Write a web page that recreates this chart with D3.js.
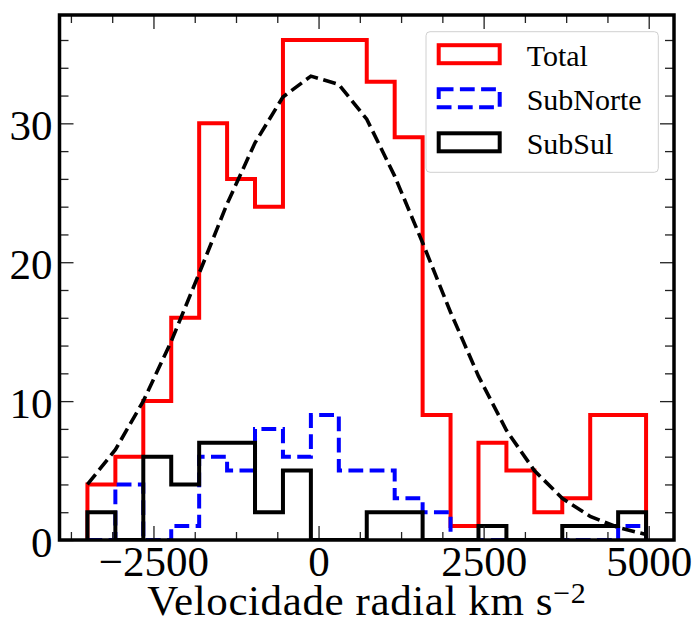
<!DOCTYPE html>
<html>
<head>
<meta charset="utf-8">
<script src="https://cdn.jsdelivr.net/npm/d3@7"></script>
<style>
  html, body { margin: 0; padding: 0; background: #fff; }
  svg { display: block; }
</style>
</head>
<body>
<svg id="chart" width="692" height="624"></svg>
<script>
// ---- data ----
const binEdges = [-3500, -3077, -2654, -2231, -1808, -1385, -962, -539, -116, 307, 730,
                  1153, 1576, 1999, 2422, 2845, 3268, 3691, 4114, 4537, 4960];
const totalCounts    = [4, 6, 10, 16, 30, 26, 24, 36, 36, 36, 33, 29, 9, 1, 7, 5, 2, 3, 9, 9];
const subNorteCounts = [0, 4, 0, 1, 6, 5, 8, 6, 9, 5, 5, 3, 2, 0, 0, 0, 0, 0, 0, 1];
const subSulCounts   = [2, 0, 6, 4, 7, 7, 2, 5, 0, 0, 2, 2, 0, 0, 1, 0, 0, 1, 1, 2];
// dashed fitted curve, read at the bin edges
const fitCurve = [4.0, 6.5, 10.0, 14.3, 19.2, 24.2, 28.6, 31.9, 33.4, 32.8, 30.3,
                  26.2, 21.4, 16.4, 11.8, 7.9, 5.0, 3.0, 1.7, 0.9, 0.4];
const seriesNames = ["Total", "SubNorte", "SubSul"];
const xTickValues = [-2500, 0, 2500, 5000];
const xTickLabels = ["\u22122500", "0", "2500", "5000"];
const yTickValues = [0, 10, 20, 30];
const yTickLabels = ["0", "10", "20", "30"];
const xLabel = "Velocidade radial km s";
const xLabelSup = "\u22122";

// ---- layout ----
const svg = d3.select("#chart");
const L = 59.5, R = 674, T = 15, B = 540;
const FONT = "'Liberation Serif', 'DejaVu Serif', serif";

const xMin = binEdges[0], xMax = binEdges[binEdges.length - 1];
const xPad = (xMax - xMin) * 0.05;
const x = d3.scaleLinear().domain([xMin - xPad, xMax + xPad]).range([L, R]);
const yMax = d3.max(totalCounts) * 1.05;
const y = d3.scaleLinear().domain([0, yMax]).range([B, T]);

function stepPoints(vals) {
  const pts = [[binEdges[0], 0]];
  vals.forEach((v, i) => { pts.push([binEdges[i], v]); pts.push([binEdges[i + 1], v]); });
  pts.push([binEdges[binEdges.length - 1], 0]);
  return pts;
}
const line = d3.line().x(d => x(d[0])).y(d => y(d[1]));

svg.append("defs").append("clipPath").attr("id", "plotclip")
  .append("rect").attr("x", L).attr("y", T).attr("width", R - L).attr("height", B - T);

const plot = svg.append("g").attr("clip-path", "url(#plotclip)");

const styles = [
  { data: totalCounts, color: "#ff0000", dash: null },
  { data: subNorteCounts, color: "#0000ff", dash: "14.8,6.4" },
  { data: subSulCounts, color: "#000000", dash: null }
];
styles.forEach(s => {
  plot.append("path")
    .attr("d", line(stepPoints(s.data)))
    .attr("fill", "none")
    .attr("stroke", s.color)
    .attr("stroke-width", 4)
    .attr("stroke-linejoin", "miter")
    .attr("stroke-dasharray", s.dash);
});

plot.append("path")
  .attr("d", line(binEdges.map((e, i) => [e, fitCurve[i]])))
  .attr("fill", "none")
  .attr("stroke", "#000")
  .attr("stroke-width", 3.6)
  .attr("stroke-dasharray", "13,5.6");

// ---- axes (inward ticks on all sides) ----
const xMinor = d3.range(-3750, 5400, 625).filter(v => !xTickValues.includes(v));
const yMinor = d3.range(0, 38, 2).filter(v => !yTickValues.includes(v));

function styleAxis(g) {
  g.select(".domain").remove();
  g.selectAll(".tick line").attr("stroke", "#222").attr("stroke-width", 1.3);
}

// bottom
svg.append("g").attr("transform", `translate(0,${B})`)
  .call(d3.axisBottom(x).tickValues(xMinor).tickSize(-8).tickFormat(""))
  .call(styleAxis);
const xb = svg.append("g").attr("transform", `translate(0,${B})`)
  .call(d3.axisBottom(x).tickValues(xTickValues).tickSize(-14)
        .tickFormat((d, i) => xTickLabels[i]))
  .call(styleAxis);
xb.selectAll(".tick text")
  .attr("y", 36).attr("dy", null)
  .attr("font-family", FONT).attr("font-size", 43).attr("fill", "#000");
// top
svg.append("g").attr("transform", `translate(0,${T})`)
  .call(d3.axisTop(x).tickValues(xMinor).tickSize(-8).tickFormat(""))
  .call(styleAxis);
svg.append("g").attr("transform", `translate(0,${T})`)
  .call(d3.axisTop(x).tickValues(xTickValues).tickSize(-14).tickFormat(""))
  .call(styleAxis);
// left
svg.append("g").attr("transform", `translate(${L},0)`)
  .call(d3.axisLeft(y).tickValues(yMinor).tickSize(-9).tickFormat(""))
  .call(styleAxis);
const yl = svg.append("g").attr("transform", `translate(${L},0)`)
  .call(d3.axisLeft(y).tickValues(yTickValues).tickSize(-14)
        .tickFormat((d, i) => yTickLabels[i]))
  .call(styleAxis);
yl.selectAll(".tick text")
  .attr("x", -7).attr("y", 16.5).attr("dy", null)
  .attr("font-family", FONT).attr("font-size", 43).attr("fill", "#000");
// right
svg.append("g").attr("transform", `translate(${R},0)`)
  .call(d3.axisRight(y).tickValues(yMinor).tickSize(-9).tickFormat(""))
  .call(styleAxis);
svg.append("g").attr("transform", `translate(${R},0)`)
  .call(d3.axisRight(y).tickValues(yTickValues).tickSize(-14).tickFormat(""))
  .call(styleAxis);

// frame
svg.append("rect")
  .attr("x", L).attr("y", T).attr("width", R - L).attr("height", B - T)
  .attr("fill", "none").attr("stroke", "#000").attr("stroke-width", 3.5);

// x label
const xl = svg.append("text")
  .attr("x", (L + R) / 2).attr("y", 615)
  .attr("text-anchor", "middle")
  .attr("letter-spacing", 0.6)
  .attr("font-family", FONT).attr("font-size", 43).attr("fill", "#000");
xl.append("tspan").text(xLabel);
xl.append("tspan").attr("font-size", 30).attr("dy", -12).text(xLabelSup);

// ---- legend ----
const lg = svg.append("g");
lg.append("rect")
  .attr("x", 426).attr("y", 31.7).attr("width", 232.3).attr("height", 140.6)
  .attr("rx", 4).attr("ry", 4)
  .attr("fill", "#fff").attr("fill-opacity", 0.8)
  .attr("stroke", "#d0d0d0").attr("stroke-width", 1);
const rowY = [54.2, 98.3, 142.3];
seriesNames.forEach((name, i) => {
  lg.append("rect")
    .attr("x", 438.7).attr("y", rowY[i] - 9).attr("width", 61).attr("height", 18)
    .attr("fill", "none")
    .attr("stroke", styles[i].color).attr("stroke-width", 4)
    .attr("stroke-dasharray", styles[i].dash);
  lg.append("text")
    .attr("x", 526.7).attr("y", rowY[i] + 11.3)
    .attr("font-family", FONT).attr("font-size", 30).attr("fill", "#000")
    .text(name);
});
</script>
</body>
</html>
